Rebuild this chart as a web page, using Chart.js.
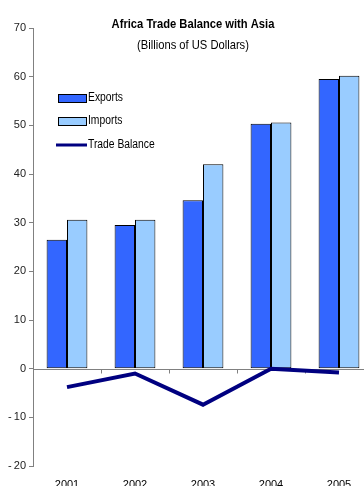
<!DOCTYPE html>
<html>
<head>
<meta charset="utf-8">
<script src="https://cdn.jsdelivr.net/npm/chart.js@4"></script>
<style>
  html, body { margin: 0; padding: 0; background: #fff; overflow: hidden; }
  #wrap { width: 364px; height: 486px; overflow: hidden; position: relative; }
  canvas { display: block; }
</style>
</head>
<body>
<div id="wrap"><canvas id="trade_chart" width="380" height="500"></canvas></div>
<script>
// data
const years = ['2001', '2002', '2003', '2004', '2005'];
const exportsData = [26.5, 29.5, 34.6, 50.3, 59.5];
const importsData = [30.6, 30.6, 42.0, 50.6, 60.2];
const balanceData = [-3.8, -1.0, -7.4, 0.0, -0.8];
const titleText = 'Africa Trade Balance with Asia';
const subtitleText = '(Billions of US Dollars)';

const FONT = "'Liberation Sans', Arial, sans-serif";
const NARROW = 0.86; // squeeze to look like Arial Narrow

// draw text squeezed horizontally
function narrowText(ctx, text, x, y, align) {
  ctx.save();
  ctx.translate(x, y);
  ctx.scale(NARROW, 1);
  ctx.textAlign = align;
  ctx.fillText(text, 0, 0);
  ctx.restore();
}

// zero line with small ticks between categories
const zeroAxis = {
  id: 'zeroAxis',
  beforeDatasetsDraw(chart) {
    const { ctx, chartArea, scales } = chart;
    const y0 = Math.round(scales.y.getPixelForValue(0)) + 0.5;
    ctx.save();
    ctx.strokeStyle = '#808080';
    ctx.lineWidth = 1;
    ctx.beginPath();
    ctx.moveTo(chartArea.left, y0);
    ctx.lineTo(chartArea.right, y0);
    const n = chart.data.labels.length;
    for (let i = 1; i < n; i++) {
      const x = Math.round((scales.x.getPixelForTick(i - 1) + scales.x.getPixelForTick(i)) / 2) + 0.5;
      ctx.moveTo(x, y0);
      ctx.lineTo(x, y0 + 4);
    }
    ctx.stroke();
    ctx.restore();
  }
};

// titles and legend drawn inside the plot
const overlay = {
  id: 'overlay',
  afterDraw(chart) {
    const { ctx } = chart;
    ctx.save();
    ctx.fillStyle = '#000';
    ctx.textBaseline = 'middle';
    ctx.font = 'bold 13px ' + FONT;
    narrowText(ctx, titleText, 193, 24, 'center');
    ctx.font = '13px ' + FONT;
    narrowText(ctx, subtitleText, 193, 45, 'center');

    ctx.font = '12px ' + FONT;
    const rows = [98, 121, 145];
    chart.data.datasets.forEach((ds, i) => {
      const y = rows[i];
      if (ds.type === 'line') {
        ctx.strokeStyle = ds.borderColor;
        ctx.lineWidth = 3;
        ctx.beginPath();
        ctx.moveTo(56, y);
        ctx.lineTo(87, y);
        ctx.stroke();
      } else {
        ctx.fillStyle = ds.backgroundColor;
        ctx.fillRect(58, y - 4, 28, 8);
        ctx.strokeStyle = '#000';
        ctx.lineWidth = 1;
        ctx.strokeRect(58.5, y - 3.5, 28, 8);
      }
      ctx.fillStyle = '#000';
      narrowText(ctx, ds.label, 88, y, 'left');
    });
    ctx.restore();
  }
};

const ctx = document.getElementById('trade_chart').getContext('2d');
new Chart(ctx, {
  data: {
    labels: years,
    datasets: [
      {
        type: 'bar',
        label: 'Exports',
        data: exportsData,
        backgroundColor: '#3366FF',
        borderColor: '#000',
        borderWidth: 1,
        borderSkipped: false,
        order: 2
      },
      {
        type: 'bar',
        label: 'Imports',
        data: importsData,
        backgroundColor: '#99CCFF',
        borderColor: '#000',
        borderWidth: 1,
        borderSkipped: false,
        order: 2
      },
      {
        type: 'line',
        label: 'Trade Balance',
        data: balanceData,
        borderColor: '#000080',
        borderWidth: 4,
        pointRadius: 0,
        tension: 0,
        fill: false,
        order: 1
      }
    ]
  },
  options: {
    responsive: false,
    animation: false,
    layout: { padding: { top: 28, right: 7, left: 0, bottom: 0 } },
    datasets: {
      bar: { categoryPercentage: 0.6, barPercentage: 1.0 }
    },
    plugins: {
      legend: { display: false },
      title: { display: false },
      tooltip: { enabled: false }
    },
    scales: {
      x: {
        grid: { display: false, drawTicks: false },
        border: { display: false },
        ticks: {
          color: '#000',
          padding: 12,
          font: { family: FONT, size: 11 },
          maxRotation: 0
        },
        afterFit(scale) { scale.height = 34; }
      },
      y: {
        min: -20,
        max: 70,
        ticks: {
          stepSize: 10,
          color: '#222',
          padding: 3,
          font: { family: FONT, size: 11 },
          callback: v => (v < 0 ? '-\u2009' + Math.abs(v) : String(v))
        },
        grid: {
          drawOnChartArea: false,
          drawTicks: true,
          tickLength: 4,
          color: '#808080'
        },
        border: { display: true, color: '#808080', width: 1 },
        afterFit(scale) { scale.width = 33; }
      }
    }
  },
  plugins: [zeroAxis, overlay]
});
</script>
</body>
</html>
